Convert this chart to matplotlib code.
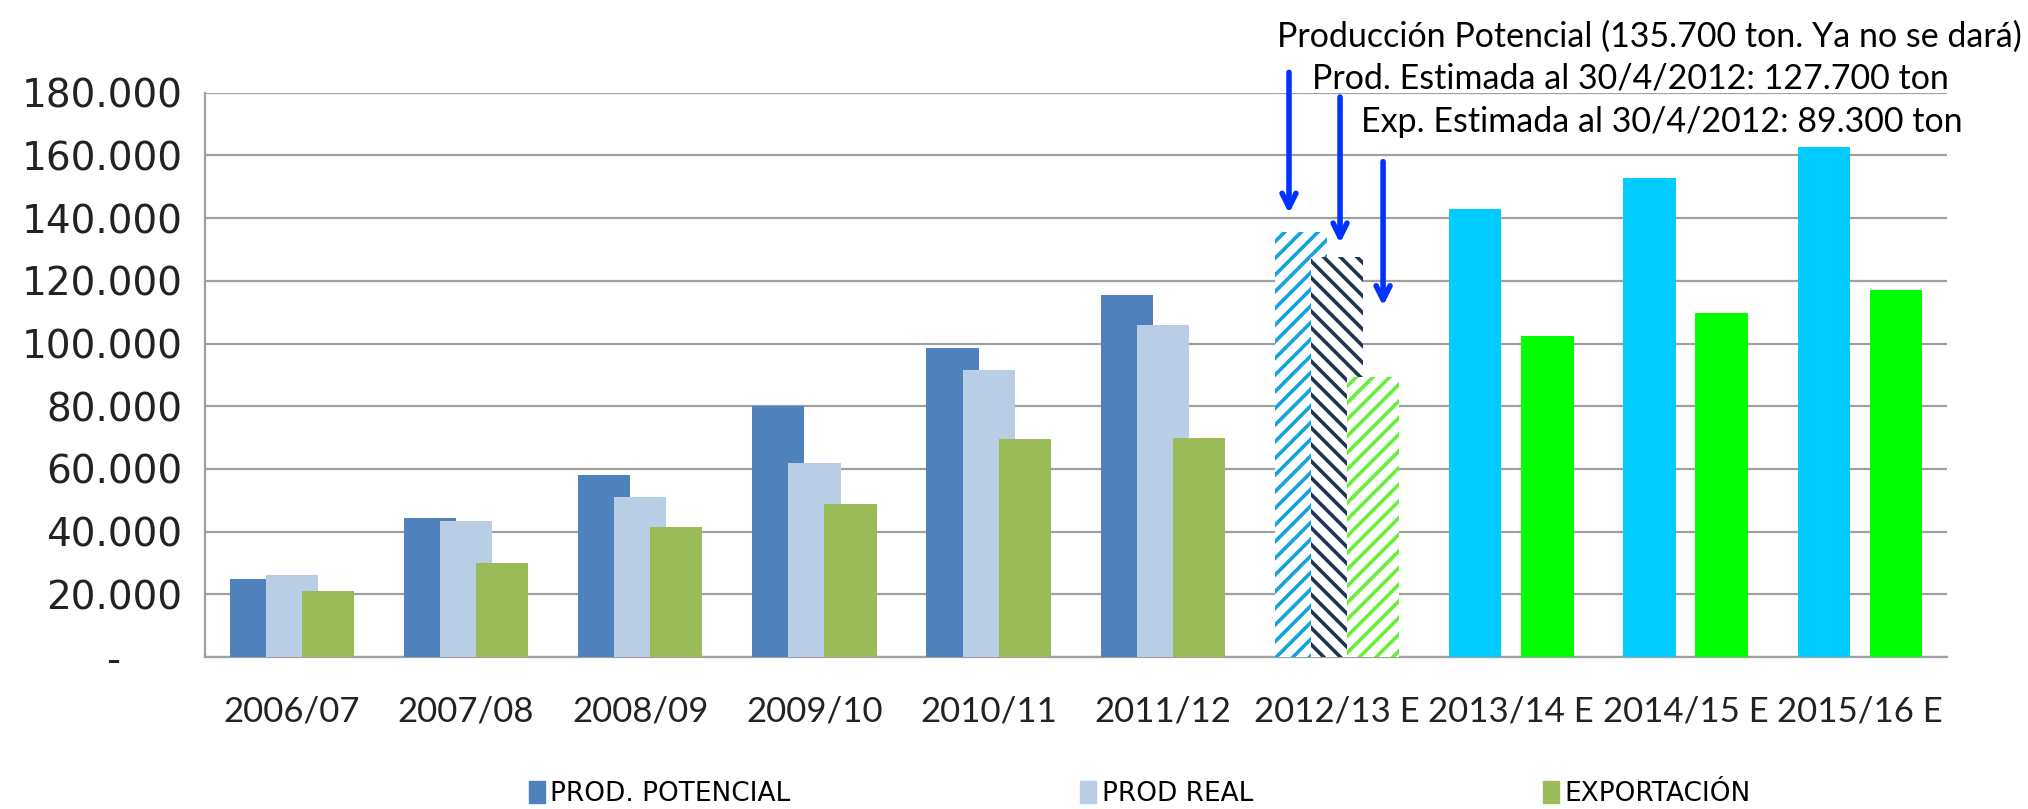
import matplotlib
matplotlib.use('Agg')
import numpy as np
import matplotlib.pyplot as plt
from matplotlib.patches import Patch
from matplotlib.ticker import FuncFormatter

# datos (toneladas)
categorias = ['2006/07', '2007/08', '2008/09', '2009/10', '2010/11', '2011/12',
              '2012/13 E', '2013/14 E', '2014/15 E', '2015/16 E']
prod_potencial = [25000, 44400, 57900, 80100, 98600, 115400, 135700, 142900, 152800, 162600]
prod_real = [26300, 43500, 50900, 62000, 91600, 106000, 127700, np.nan, np.nan, np.nan]
exportacion = [20900, 30000, 41500, 48900, 69400, 69800, 89300, 102300, 109700, 117000]
y_ticks = [0, 20000, 40000, 60000, 80000, 100000, 120000, 140000, 160000, 180000]

idx_estimado = 6          # barras rayadas
idx_proyeccion = [7, 8, 9]  # barras solo potencial / exportacion

notas = ['Producción Potencial (135.700 ton. Ya no se dará)',
         'Prod. Estimada al 30/4/2012: 127.700 ton',
         'Exp. Estimada al 30/4/2012: 89.300 ton']

plt.rcParams['hatch.linewidth'] = 2.6

fig = plt.figure(figsize=(20.28, 8.09), dpi=100)
ax = fig.add_axes([0.1009, 0.1879, 0.8591, 0.6975])

x = np.arange(len(categorias))
w = 0.30
off = 0.207

c_pot, c_real, c_exp = '#4F81BD', '#B9CDE5', '#9BBB59'
h_pot, h_real, h_exp = '#14A3E0', '#1F3550', '#66F03A'
c_proy_pot, c_proy_exp = '#00CCFF', '#00FF00'

for i in range(len(categorias)):
    if i == idx_estimado:
        ax.bar(x[i] - off, prod_potencial[i], w, facecolor='white', edgecolor=h_pot,
               hatch='//', linewidth=0, zorder=3)
        ax.bar(x[i], prod_real[i], w, facecolor='white', edgecolor=h_real,
               hatch='\\\\', linewidth=0, zorder=3)
        ax.bar(x[i] + off, exportacion[i], w, facecolor='white', edgecolor=h_exp,
               hatch='//', linewidth=0, zorder=3)
    elif i in idx_proyeccion:
        ax.bar(x[i] - off, prod_potencial[i], w, color=c_proy_pot, zorder=3)
        ax.bar(x[i] + off, exportacion[i], w, color=c_proy_exp, zorder=3)
    else:
        ax.bar(x[i] - off, prod_potencial[i], w, color=c_pot, zorder=3)
        ax.bar(x[i], prod_real[i], w, color=c_real, zorder=3)
        ax.bar(x[i] + off, exportacion[i], w, color=c_exp, zorder=3)

ax.set_xlim(-0.5, len(categorias) - 0.5)
ax.set_ylim(0, 180000)
ax.set_yticks(y_ticks)
ax.yaxis.set_major_formatter(FuncFormatter(
    lambda v, p: '-     ' if v == 0 else '{:,.0f}'.format(v).replace(',', '.')))
ax.set_xticks(x)
ax.set_xticklabels(categorias, family=['Lato', 'DejaVu Sans'], fontsize=25, color='#222222')
ax.tick_params(axis='x', length=0, pad=28)
ax.tick_params(axis='y', length=0, pad=16, labelsize=28, labelcolor='#222222')

ax.grid(axis='y', color='#A0A0A0', linewidth=1.6, zorder=0)
ax.set_axisbelow(True)
for s in ['top', 'right']:
    ax.spines[s].set_visible(False)
ax.spines['left'].set_color('#A0A0A0')
ax.spines['left'].set_linewidth(1.6)
ax.spines['bottom'].set_color('#A0A0A0')
ax.spines['bottom'].set_linewidth(1.6)

# flechas
flechas = [(5.724, 186500, 141500), (6.017, 178600, 132000), (6.264, 158000, 112000)]
for fx, y0, y1 in flechas:
    ax.annotate('', xy=(fx, y1), xytext=(fx, y0), annotation_clip=False,
                arrowprops=dict(arrowstyle='->,head_length=1.0,head_width=0.5',
                                color='#0033FF', lw=4, shrinkA=0, shrinkB=0), zorder=5)

# textos
fuente_notas = ['Lato', 'DejaVu Sans']
fig.text(0.997, 0.955, notas[0], ha='right', va='center', fontsize=24.5, family=fuente_notas)
fig.text(0.961, 0.903, notas[1], ha='right', va='center', fontsize=24.5, family=fuente_notas)
fig.text(0.968, 0.849, notas[2], ha='right', va='center', fontsize=24.5, family=fuente_notas)

# leyenda
handles = [Patch(color=c_pot), Patch(color=c_real), Patch(color=c_exp)]
fig.legend(handles, ['PROD. POTENCIAL', 'PROD REAL', 'EXPORTACIÓN'], ncol=3,
           loc='center', bbox_to_anchor=(0.562, 0.018), frameon=False,
           prop={'family': ['Liberation Sans Narrow', 'DejaVu Sans'], 'size': 19},
           handlelength=0.6, handleheight=0.9, handletextpad=0.2, columnspacing=11)

fig.savefig('out.png', dpi=100)
